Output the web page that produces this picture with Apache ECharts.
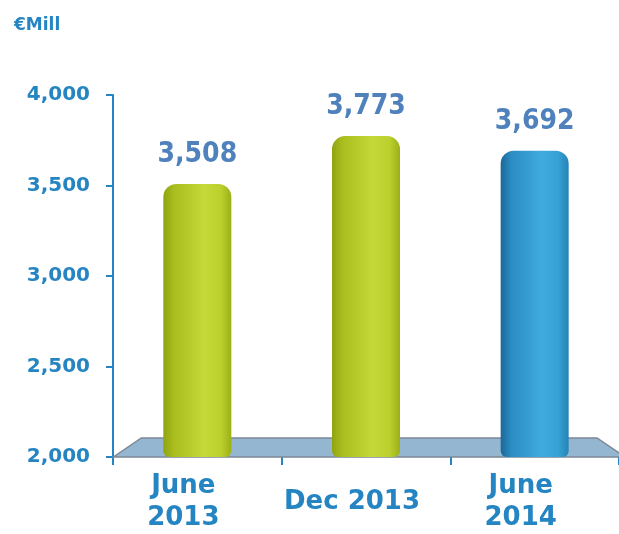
<!DOCTYPE html>
<html>
<head>
<meta charset="utf-8">
<script src="https://cdn.jsdelivr.net/npm/echarts@6/dist/echarts.min.js"></script>
<style>
  html, body { margin: 0; padding: 0; background: #fff; }
  #main { width: 619px; height: 534px; }
</style>
</head>
<body>
<div id="main"></div>
<script>
// data
var categories = ['June\n2013', 'Dec 2013', 'June\n2014'];
var values = [3508, 3773, 3692];
var barKinds = ['green', 'green', 'blue'];
var yMin = 2000, yMax = 4000, yStep = 500;

var blue = '#2585c2';
var fills = {
    green: new echarts.graphic.LinearGradient(0, 0, 1, 0, [
        { offset: 0, color: '#8fa30f' },
        { offset: 0.15, color: '#a9bd1f' },
        { offset: 0.6, color: '#c5da38' },
        { offset: 0.85, color: '#bbcf2d' },
        { offset: 1, color: '#9bb017' }
    ]),
    blue: new echarts.graphic.LinearGradient(0, 0, 1, 0, [
        { offset: 0, color: '#1b6897' },
        { offset: 0.15, color: '#2a8cc2' },
        { offset: 0.6, color: '#40abde' },
        { offset: 0.85, color: '#36a1d4' },
        { offset: 1, color: '#2483b6' }
    ])
};

var chart = echarts.init(document.getElementById('main'));

var option = {
    animation: false,
    title: {
        text: '€Mill',
        left: 9,
        top: 12,
        textStyle: { fontFamily: 'DejaVu Sans', fontSize: 17, fontWeight: 'bold', color: blue }
    },
    grid: { left: 113, right: 0, top: 95, bottom: 76 },
    xAxis: {
        type: 'category',
        data: categories,
        axisLine: { show: false },
        axisTick: { show: true, length: 8, lineStyle: { color: blue, width: 2 } },
        axisLabel: {
            interval: 0,
            hideOverlap: false,
            margin: 45,
            verticalAlign: 'middle',
            padding: [0, 28, 0, 0],
            fontFamily: 'DejaVu Sans',
            fontSize: 26,
            fontWeight: 'bold',
            lineHeight: 32,
            color: blue
        }
    },
    yAxis: {
        type: 'value',
        min: yMin,
        max: yMax,
        interval: yStep,
        splitLine: { show: false },
        axisLine: { show: true, lineStyle: { color: blue, width: 2 } },
        axisTick: { show: true, length: 7, lineStyle: { color: blue, width: 2 } },
        axisLabel: {
            margin: 23,
            fontFamily: 'DejaVu Sans',
            fontSize: 20,
            fontWeight: 'bold',
            color: blue,
            formatter: function (v) { return v.toLocaleString('en-US'); }
        }
    },
    series: [{
        type: 'bar',
        barWidth: 68,
        z: 5,
        data: values.map(function (v, i) {
            return { value: v, itemStyle: { color: fills[barKinds[i]] } };
        }),
        itemStyle: { borderRadius: [13, 13, 6, 6] },
        label: {
            show: true,
            position: 'top',
            distance: 15,
            fontFamily: "'DejaVu Sans Condensed', 'DejaVu Sans', sans-serif",
            fontSize: 28,
            fontWeight: 'bold',
            color: '#4f81bd',
            formatter: function (p) { return p.value.toLocaleString('en-US'); }
        }
    }]
};

chart.setOption(option);

// floor plate under the bars (decoration)
var x0 = chart.convertToPixel({ xAxisIndex: 0 }, categories[0]) - 84;
var yFront = chart.convertToPixel({ yAxisIndex: 0 }, yMin);
var yBack = yFront - 19;
chart.setOption({
    graphic: [{
        type: 'polygon',
        z: 1,
        shape: {
            points: [[x0, yFront], [x0 + 28, yBack], [597, yBack], [625, yFront]]
        },
        style: { fill: '#95b6d0', stroke: '#7b8895', lineWidth: 1.5 }
    }]
});
</script>
</body>
</html>
